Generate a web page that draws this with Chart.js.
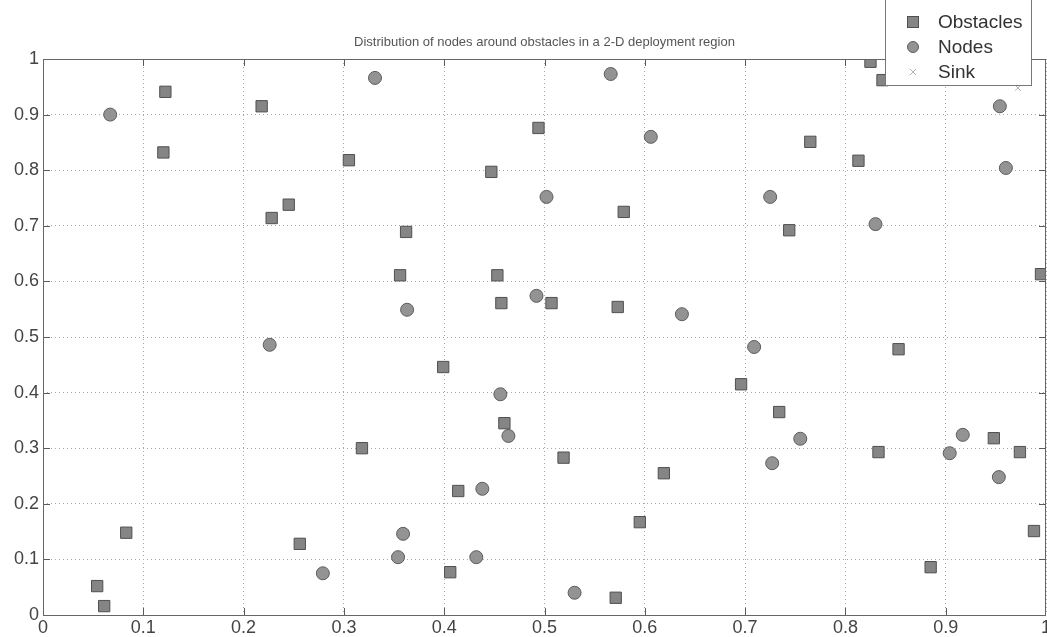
<!DOCTYPE html>
<html>
<head>
<meta charset="utf-8">
<script src="https://cdn.jsdelivr.net/npm/chart.js@4.4.0/dist/chart.umd.min.js"></script>
<style>
  html, body { margin: 0; padding: 0; background: #fff; overflow: hidden; }
  /* um pouco mais largo que a janela: o "1" do eixo x fica cortado como no original */
  #box { width: 1055px; height: 637px; position: relative; }
</style>
</head>
<body>
<div id="box"><canvas id="grafico"></canvas></div>
<script>
// valores
var obstacleX = [0.054, 0.061, 0.083, 0.120, 0.122, 0.218, 0.228, 0.245, 0.256, 0.305,
                 0.318, 0.356, 0.362, 0.399, 0.406, 0.414, 0.447, 0.453, 0.457, 0.460,
                 0.494, 0.507, 0.519, 0.571, 0.573, 0.579, 0.595, 0.619, 0.696, 0.734,
                 0.744, 0.765, 0.813, 0.825, 0.833, 0.837, 0.853, 0.885, 0.948, 0.974,
                 0.988, 0.995];
var obstacleY = [0.052, 0.016, 0.148, 0.832, 0.941, 0.915, 0.714, 0.738, 0.128, 0.818,
                 0.300, 0.611, 0.689, 0.446, 0.077, 0.223, 0.797, 0.611, 0.561, 0.345,
                 0.876, 0.561, 0.283, 0.031, 0.554, 0.725, 0.167, 0.255, 0.415, 0.365,
                 0.692, 0.851, 0.817, 0.995, 0.293, 0.962, 0.478, 0.086, 0.318, 0.293,
                 0.151, 0.613];

var nodeX = [0.067, 0.226, 0.279, 0.331, 0.354, 0.359, 0.363, 0.432, 0.438, 0.456,
             0.464, 0.492, 0.502, 0.530, 0.566, 0.606, 0.637, 0.709, 0.725, 0.727,
             0.755, 0.830, 0.904, 0.917, 0.953, 0.954, 0.960];
var nodeY = [0.900, 0.486, 0.075, 0.966, 0.104, 0.146, 0.549, 0.104, 0.227, 0.397,
             0.322, 0.574, 0.752, 0.040, 0.973, 0.860, 0.541, 0.482, 0.752, 0.273,
             0.317, 0.703, 0.291, 0.324, 0.248, 0.915, 0.804];

var sinkX = [0.972];
var sinkY = [0.948];

var tickLabels = ['0', '0.1', '0.2', '0.3', '0.4', '0.5', '0.6', '0.7', '0.8', '0.9', '1'];

var titulo = 'Distribution of nodes around obstacles in a 2-D deployment region';

function montarPontos(xs, ys) {
    var pontos = [];
    for (var i = 0; i < xs.length; i++) {
        pontos.push({ x: xs[i], y: ys[i] });
    }
    return pontos;
}

var fonte = "'Liberation Sans', Arial, sans-serif";

// moldura solida, tracinhos internos e titulo centrado no plot
var molduraPlugin = {
    id: 'moldura',
    afterDatasetsDraw: function (chart) {
        var ctx = chart.ctx;
        var a = chart.chartArea;
        var sx = chart.scales.x;
        var sy = chart.scales.y;
        ctx.save();
        ctx.strokeStyle = '#5a5a5a';
        ctx.lineWidth = 1;
        ctx.beginPath();
        for (var i = 1; i < tickLabels.length - 1; i++) {
            var px = Math.round(sx.getPixelForValue(i / 10)) + 0.5;
            ctx.moveTo(px, a.bottom); ctx.lineTo(px, a.bottom - 7);
            ctx.moveTo(px, a.top); ctx.lineTo(px, a.top + 7);
            var py = Math.round(sy.getPixelForValue(i / 10)) + 0.5;
            ctx.moveTo(a.left, py); ctx.lineTo(a.left + 7, py);
            ctx.moveTo(a.right, py); ctx.lineTo(a.right - 7, py);
        }
        ctx.stroke();
        ctx.strokeStyle = '#666';
        ctx.strokeRect(Math.round(a.left) + 0.5, Math.round(a.top) + 0.5,
                       Math.round(a.right - a.left) - 1, Math.round(a.bottom - a.top));

        ctx.fillStyle = '#555';
        ctx.font = '13px ' + fonte;
        ctx.textAlign = 'center';
        ctx.textBaseline = 'middle';
        ctx.fillText(titulo, (a.left + a.right) / 2, 42);
        ctx.restore();
    }
};

// legenda no canto superior direito
var legendaPlugin = {
    id: 'legenda',
    afterDraw: function (chart) {
        var ctx = chart.ctx;
        var ds = chart.data.datasets;
        ctx.save();
        ctx.fillStyle = '#fff';
        ctx.fillRect(885, -2, 147, 87);
        ctx.strokeStyle = '#777';
        ctx.lineWidth = 1;
        ctx.strokeRect(885.5, -2, 146, 87.5);

        var linhas = [22, 47, 72];
        for (var i = 0; i < ds.length; i++) {
            var y = linhas[i];
            var mx = 913;
            ctx.fillStyle = ds[i].backgroundColor;
            ctx.strokeStyle = ds[i].borderColor;
            ctx.lineWidth = 1;
            if (ds[i].pointStyle === 'rect') {
                ctx.fillRect(mx - 5, y - 5, 10, 10);
                ctx.strokeRect(mx - 5.5, y - 5.5, 11, 11);
            } else if (ds[i].pointStyle === 'circle') {
                ctx.beginPath();
                ctx.arc(mx, y, 5.5, 0, Math.PI * 2);
                ctx.fill();
                ctx.stroke();
            } else {
                ctx.beginPath();
                ctx.moveTo(mx - 3, y - 3); ctx.lineTo(mx + 3, y + 3);
                ctx.moveTo(mx + 3, y - 3); ctx.lineTo(mx - 3, y + 3);
                ctx.stroke();
            }
            ctx.fillStyle = '#333';
            ctx.font = '19px ' + fonte;
            ctx.textBaseline = 'middle';
            ctx.textAlign = 'left';
            ctx.fillText(ds[i].label, 938, y + 1);
        }
        ctx.restore();
    }
};

var ctx = document.getElementById('grafico').getContext('2d');

new Chart(ctx, {
    type: 'scatter',
    data: {
        datasets: [{
            label: 'Obstacles',
            data: montarPontos(obstacleX, obstacleY),
            pointStyle: 'rect',
            pointRadius: 8,
            backgroundColor: '#858585',
            borderColor: '#505050',
            borderWidth: 1
        }, {
            label: 'Nodes',
            data: montarPontos(nodeX, nodeY),
            pointStyle: 'circle',
            pointRadius: 6.5,
            backgroundColor: '#939393',
            borderColor: '#5c5c5c',
            borderWidth: 1
        }, {
            label: 'Sink',
            data: montarPontos(sinkX, sinkY),
            pointStyle: 'crossRot',
            pointRadius: 4,
            backgroundColor: '#b0b0b0',
            borderColor: '#b0b0b0',
            borderWidth: 1
        }]
    },
    options: {
        responsive: true,
        maintainAspectRatio: false,
        animation: false,
        layout: {
            padding: { left: 0, right: 0, top: 59, bottom: 0 }
        },
        plugins: {
            legend: { display: false },
            tooltip: { enabled: false },
            title: { display: false }
        },
        scales: {
            x: {
                type: 'linear',
                min: 0,
                max: 1,
                ticks: {
                    stepSize: 0.1,
                    autoSkip: false,
                    maxRotation: 0,
                    padding: 2,
                    color: '#444',
                    font: { family: fonte, size: 18 },
                    callback: function (v, i) { return tickLabels[i]; }
                },
                grid: { color: '#a8a8a8', drawTicks: false },
                border: { display: false, dash: [1, 3] },
                afterFit: function (scale) {
                    scale.height = 22;
                }
            },
            y: {
                type: 'linear',
                min: 0,
                max: 1,
                ticks: {
                    stepSize: 0.1,
                    autoSkip: false,
                    padding: 4,
                    color: '#444',
                    font: { family: fonte, size: 18 },
                    callback: function (v, i) { return tickLabels[i]; }
                },
                grid: { color: '#a8a8a8', drawTicks: false },
                border: { display: false, dash: [1, 3] },
                afterFit: function (scale) {
                    scale.width = 43;
                }
            }
        }
    },
    plugins: [molduraPlugin, legendaPlugin]
});
</script>
</body>
</html>
